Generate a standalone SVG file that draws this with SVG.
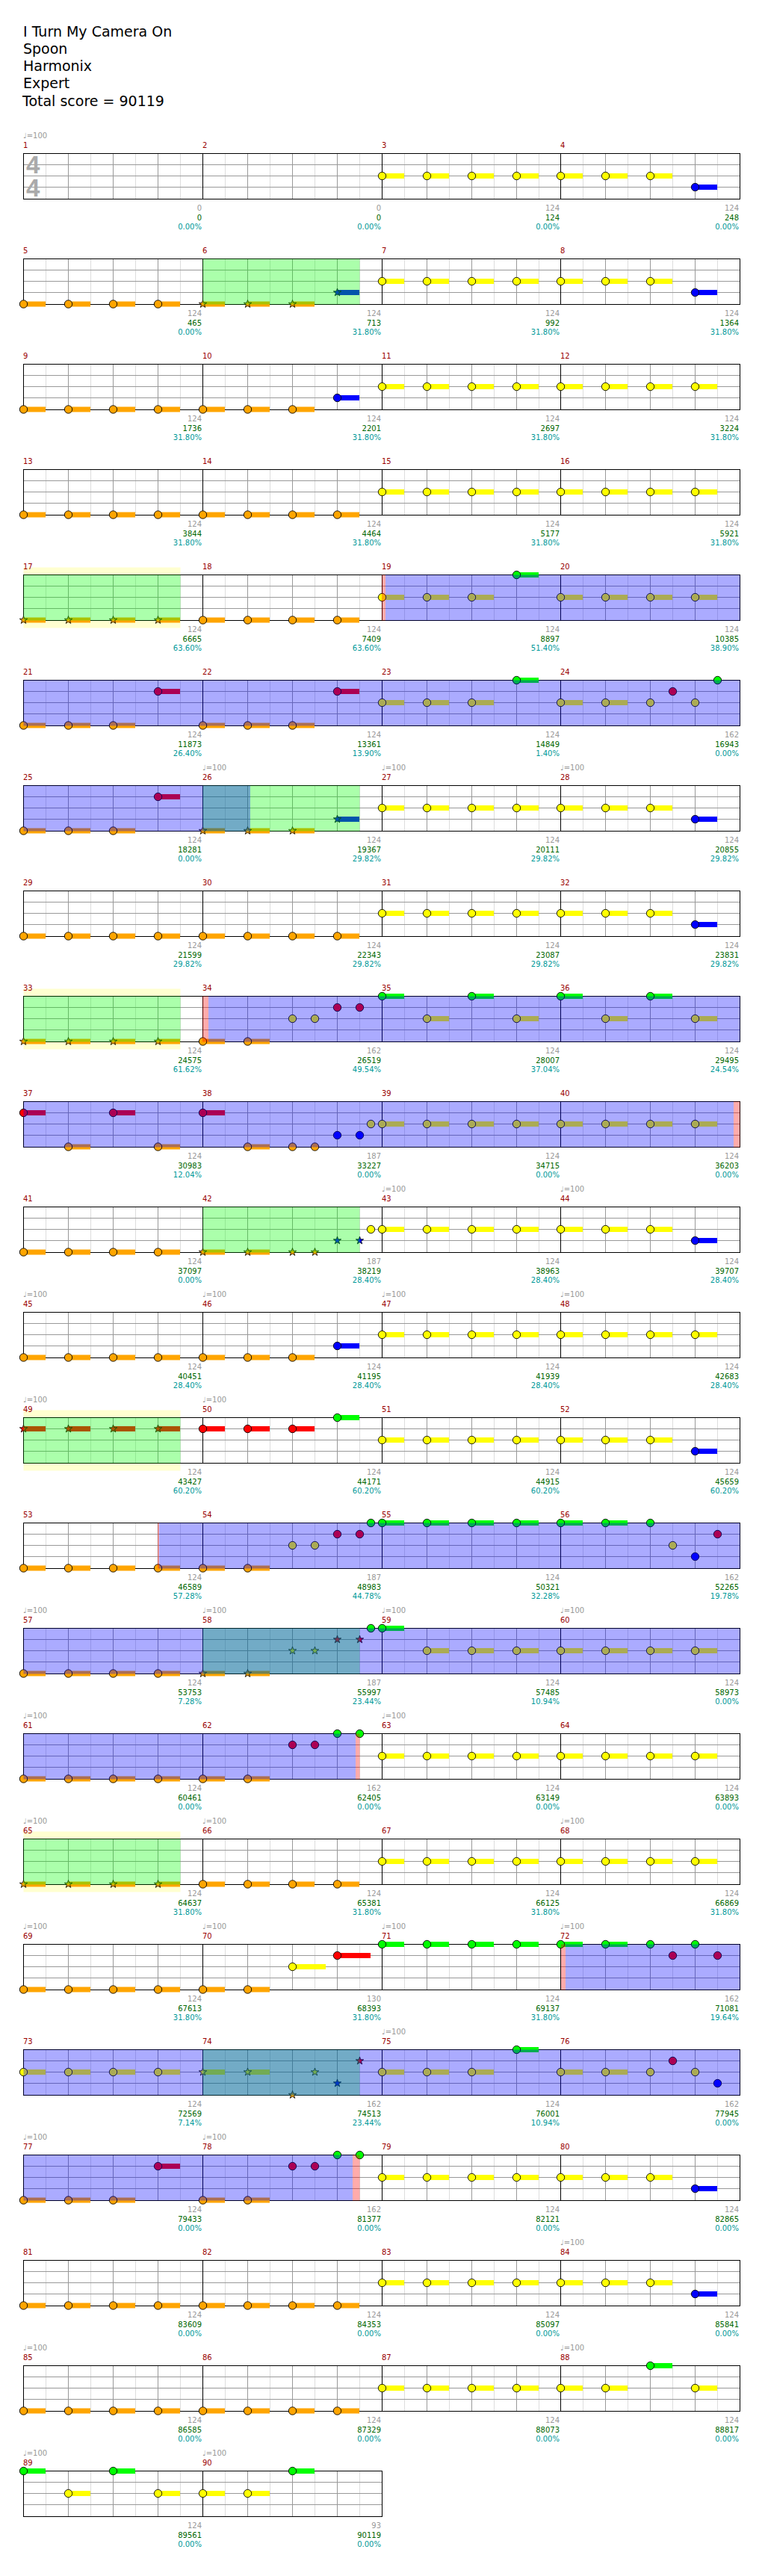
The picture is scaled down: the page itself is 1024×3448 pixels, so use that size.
<svg xmlns="http://www.w3.org/2000/svg" width="1024" height="3448" viewBox="0 0 1024 3448">
<style>
.t{font-family:"DejaVu Sans",sans-serif;font-size:19px;fill:#000}
.m{font-family:"DejaVu Sans",sans-serif;font-size:10px;fill:#990000}
.q{font-family:"DejaVu Sans",sans-serif;font-size:10px;fill:#999}
.g,.c,.p{font-family:"DejaVu Sans",sans-serif;font-size:10px;text-anchor:end}
.g{fill:#999}.c{fill:#006600}.p{fill:#009999}
.ts{font-family:"Liberation Sans",sans-serif;font-weight:bold;font-size:33px;fill:#aaa}
.bl{fill:#0000ff;fill-opacity:.33}
.gr{fill:#00ff00;fill-opacity:.33}
.pk{fill:#ff0000;fill-opacity:.33}
.hl{fill:#ffffd0}
</style>
<defs>
<g id="st4">
<rect x="31.5" y="0" width="959" height="61" fill="#fff"/>
<path d="M61.5 0V61M121.5 0V61M181.5 0V61M241.5 0V61M301.5 0V61M361.5 0V61M421.5 0V61M481.5 0V61M541.5 0V61M601.5 0V61M661.5 0V61M721.5 0V61M780.5 0V61M840.5 0V61M900.5 0V61M960.5 0V61" stroke="#ddd"/>
<path d="M91.5 0V61M151.5 0V61M211.5 0V61M331.5 0V61M391.5 0V61M451.5 0V61M571.5 0V61M631.5 0V61M691.5 0V61M810.5 0V61M870.5 0V61M930.5 0V61M31.5 15H990.5M31.5 30H990.5M31.5 45H990.5" stroke="#999"/>
<path d="M271.5 0V61M511.5 0V61M750.5 0V61" stroke="#000"/>
<rect x="31.5" y="0" width="959" height="61" fill="none" stroke="#000"/>
</g>
<g id="st2">
<rect x="31.5" y="0" width="480" height="61" fill="#fff"/>
<path d="M61.5 0V61M121.5 0V61M181.5 0V61M241.5 0V61M301.5 0V61M361.5 0V61M421.5 0V61M481.5 0V61" stroke="#ddd"/>
<path d="M91.5 0V61M151.5 0V61M211.5 0V61M331.5 0V61M391.5 0V61M451.5 0V61M31.5 15H511.5M31.5 30H511.5M31.5 45H511.5" stroke="#999"/>
<path d="M271.5 0V61" stroke="#000"/>
<rect x="31.5" y="0" width="480" height="61" fill="none" stroke="#000"/>
</g>
<rect id="tO" y="-3.5" width="29.5" height="7" fill="#ffa500"/>
<rect id="tY" y="-3.5" width="29.5" height="7" fill="#ffff00"/>
<rect id="tB" y="-3.5" width="29.5" height="7" fill="#0000ff"/>
<rect id="tR" y="-3.5" width="29.5" height="7" fill="#ff0000"/>
<rect id="tG" y="-3.5" width="29.5" height="7" fill="#00ff00"/>
<circle id="cO" r="5.2" fill="#ffa500" stroke="#000" stroke-width=".9"/>
<circle id="cY" r="5.2" fill="#ffff00" stroke="#000" stroke-width=".9"/>
<circle id="cB" r="5.2" fill="#0000ff" stroke="#000" stroke-width=".9"/>
<circle id="cR" r="5.2" fill="#ff0000" stroke="#000" stroke-width=".9"/>
<circle id="cG" r="5.2" fill="#00ff00" stroke="#000" stroke-width=".9"/>
<polygon id="sO" points="0,-5.5 1.29,-1.78 5.23,-1.7 2.09,0.68 3.23,4.45 0,2.2 -3.23,4.45 -2.09,0.68 -5.23,-1.7 -1.29,-1.78" fill="#ffa500" stroke="#000" stroke-width=".8"/>
<polygon id="sY" points="0,-5.5 1.29,-1.78 5.23,-1.7 2.09,0.68 3.23,4.45 0,2.2 -3.23,4.45 -2.09,0.68 -5.23,-1.7 -1.29,-1.78" fill="#ffff00" stroke="#000" stroke-width=".8"/>
<polygon id="sB" points="0,-5.5 1.29,-1.78 5.23,-1.7 2.09,0.68 3.23,4.45 0,2.2 -3.23,4.45 -2.09,0.68 -5.23,-1.7 -1.29,-1.78" fill="#0000ff" stroke="#000" stroke-width=".8"/>
<polygon id="sR" points="0,-5.5 1.29,-1.78 5.23,-1.7 2.09,0.68 3.23,4.45 0,2.2 -3.23,4.45 -2.09,0.68 -5.23,-1.7 -1.29,-1.78" fill="#ff0000" stroke="#000" stroke-width=".8"/>
<g id="NO"><use href="#tO"/><use href="#cO"/></g>
<g id="NY"><use href="#tY"/><use href="#cY"/></g>
<g id="NB"><use href="#tB"/><use href="#cB"/></g>
<g id="NR"><use href="#tR"/><use href="#cR"/></g>
<g id="NG"><use href="#tG"/><use href="#cG"/></g>
<g id="SO"><use href="#tO"/><use href="#sO"/></g>
<g id="SY"><use href="#tY"/><use href="#sY"/></g>
<g id="SB"><use href="#tB"/><use href="#sB"/></g>
<g id="SR"><use href="#tR"/><use href="#sR"/></g>
<g id="O4"><use href="#NO" y="60.5"/><use href="#NO" x="60" y="60.5"/><use href="#NO" x="120" y="60.5"/><use href="#NO" x="180" y="60.5"/></g>
<g id="O8"><use href="#O4"/><use href="#O4" x="240"/></g>
<g id="SO4"><use href="#SO" y="60.5"/><use href="#SO" x="60" y="60.5"/><use href="#SO" x="120" y="60.5"/><use href="#SO" x="180" y="60.5"/></g>
<g id="O3R"><use href="#NO" y="60.5"/><use href="#NO" x="60" y="60.5"/><use href="#NO" x="120" y="60.5"/><use href="#NR" x="180" y="15"/></g>
<g id="Y4"><use href="#NY" y="30"/><use href="#NY" x="60" y="30"/><use href="#NY" x="120" y="30"/><use href="#NY" x="180" y="30"/></g>
<g id="Y8"><use href="#Y4"/><use href="#Y4" x="239"/></g>
<g id="Y7B"><use href="#Y4"/><use href="#NY" x="239" y="30"/><use href="#NY" x="299" y="30"/><use href="#NY" x="359" y="30"/><use href="#NB" x="419" y="45"/></g>
</defs>
<rect width="1024" height="3448" fill="#fff"/>
<g id="header">
<text class="t" x="31" y="49">I Turn My Camera On</text>
<text class="t" x="31" y="72">Spoon</text>
<text class="t" x="31" y="95">Harmonix</text>
<text class="t" x="31" y="118">Expert</text>
<text class="t" x="30" y="141.5">Total score = 90119</text>
</g>
<g id="connectors"/>

<g id="row-m1-4" transform="translate(0,205.5)">
<use href="#st4"/>
<text class="ts" x="35" y="26.5">4</text><text class="ts" x="35" y="57.5">4</text>
<text class="q" x="31" y="-21">♩=100</text>
<text class="m" x="31" y="-8">1</text><text class="m" x="271" y="-8">2</text><text class="m" x="511" y="-8">3</text><text class="m" x="750" y="-8">4</text>
<use href="#Y7B" x="511.5"/>
<text class="g" x="270" y="76">0</text><text class="c" x="270" y="89.3">0</text><text class="p" x="270" y="101.8">0.00%</text>
<text class="g" x="510" y="76">0</text><text class="c" x="510" y="89.3">0</text><text class="p" x="510" y="101.8">0.00%</text>
<text class="g" x="749" y="76">124</text><text class="c" x="749" y="89.3">124</text><text class="p" x="749" y="101.8">0.00%</text>
<text class="g" x="989" y="76">124</text><text class="c" x="989" y="89.3">248</text><text class="p" x="989" y="101.8">0.00%</text>
</g>

<g id="row-m5-8" transform="translate(0,346.5)">
<use href="#st4"/>
<text class="m" x="31" y="-8">5</text><text class="m" x="271" y="-8">6</text><text class="m" x="511" y="-8">7</text><text class="m" x="750" y="-8">8</text>
<use href="#O4" x="31.5"/>
<use href="#SO" x="271.5" y="60.5"/><use href="#SO" x="331.5" y="60.5"/><use href="#SO" x="391.5" y="60.5"/><use href="#SB" x="451.5" y="45"/>
<use href="#Y7B" x="511.5"/>
<rect class="gr" x="271.5" y="0" width="210" height="61"/>
<text class="g" x="270" y="76">124</text><text class="c" x="270" y="89.3">465</text><text class="p" x="270" y="101.8">0.00%</text>
<text class="g" x="510" y="76">124</text><text class="c" x="510" y="89.3">713</text><text class="p" x="510" y="101.8">31.80%</text>
<text class="g" x="749" y="76">124</text><text class="c" x="749" y="89.3">992</text><text class="p" x="749" y="101.8">31.80%</text>
<text class="g" x="989" y="76">124</text><text class="c" x="989" y="89.3">1364</text><text class="p" x="989" y="101.8">31.80%</text>
</g>

<g id="row-m9-12" transform="translate(0,487.5)">
<use href="#st4"/>
<text class="m" x="31" y="-8">9</text><text class="m" x="271" y="-8">10</text><text class="m" x="511" y="-8">11</text><text class="m" x="750" y="-8">12</text>
<use href="#O4" x="31.5"/>
<use href="#NO" x="271.5" y="60.5"/><use href="#NO" x="331.5" y="60.5"/><use href="#NO" x="391.5" y="60.5"/><use href="#NB" x="451.5" y="45"/>
<use href="#Y8" x="511.5"/>
<text class="g" x="270" y="76">124</text><text class="c" x="270" y="89.3">1736</text><text class="p" x="270" y="101.8">31.80%</text>
<text class="g" x="510" y="76">124</text><text class="c" x="510" y="89.3">2201</text><text class="p" x="510" y="101.8">31.80%</text>
<text class="g" x="749" y="76">124</text><text class="c" x="749" y="89.3">2697</text><text class="p" x="749" y="101.8">31.80%</text>
<text class="g" x="989" y="76">124</text><text class="c" x="989" y="89.3">3224</text><text class="p" x="989" y="101.8">31.80%</text>
</g>

<g id="row-m13-16" transform="translate(0,628.5)">
<use href="#st4"/>
<text class="m" x="31" y="-8">13</text><text class="m" x="271" y="-8">14</text><text class="m" x="511" y="-8">15</text><text class="m" x="750" y="-8">16</text>
<use href="#O8" x="31.5"/>
<use href="#Y8" x="511.5"/>
<text class="g" x="270" y="76">124</text><text class="c" x="270" y="89.3">3844</text><text class="p" x="270" y="101.8">31.80%</text>
<text class="g" x="510" y="76">124</text><text class="c" x="510" y="89.3">4464</text><text class="p" x="510" y="101.8">31.80%</text>
<text class="g" x="749" y="76">124</text><text class="c" x="749" y="89.3">5177</text><text class="p" x="749" y="101.8">31.80%</text>
<text class="g" x="989" y="76">124</text><text class="c" x="989" y="89.3">5921</text><text class="p" x="989" y="101.8">31.80%</text>
</g>

<g id="row-m17-20" transform="translate(0,769.5)">
<rect class="hl" x="31.5" y="-10" width="210" height="81"/>
<use href="#st4"/>
<text class="m" x="31" y="-8">17</text><text class="m" x="271" y="-8">18</text><text class="m" x="511" y="-8">19</text><text class="m" x="750" y="-8">20</text>
<use href="#SO4" x="31.5"/>
<use href="#O4" x="271.5"/>
<use href="#NY" x="511.5" y="30"/><use href="#NY" x="571.5" y="30"/><use href="#NY" x="631.5" y="30"/><use href="#NG" x="691.5" y="0"/>
<use href="#Y4" x="750.5"/>
<rect class="gr" x="31.5" y="0" width="210" height="61"/>
<rect class="pk" x="511" y="0" width="5" height="61"/>
<rect class="bl" x="516" y="0" width="474.5" height="61"/>
<text class="g" x="270" y="76">124</text><text class="c" x="270" y="89.3">6665</text><text class="p" x="270" y="101.8">63.60%</text>
<text class="g" x="510" y="76">124</text><text class="c" x="510" y="89.3">7409</text><text class="p" x="510" y="101.8">63.60%</text>
<text class="g" x="749" y="76">124</text><text class="c" x="749" y="89.3">8897</text><text class="p" x="749" y="101.8">51.40%</text>
<text class="g" x="989" y="76">124</text><text class="c" x="989" y="89.3">10385</text><text class="p" x="989" y="101.8">38.90%</text>
</g>

<g id="row-m21-24" transform="translate(0,910.5)">
<use href="#st4"/>
<text class="m" x="31" y="-8">21</text><text class="m" x="271" y="-8">22</text><text class="m" x="511" y="-8">23</text><text class="m" x="750" y="-8">24</text>
<use href="#O3R" x="31.5"/><use href="#O3R" x="271.5"/>
<use href="#NY" x="511.5" y="30"/><use href="#NY" x="571.5" y="30"/><use href="#NY" x="631.5" y="30"/><use href="#NG" x="691.5" y="0"/>
<use href="#NY" x="750.5" y="30"/><use href="#NY" x="810.5" y="30"/><use href="#cY" x="870.5" y="30"/><use href="#cR" x="900.5" y="15"/><use href="#cY" x="930.5" y="30"/><use href="#cG" x="960.5" y="0"/>
<rect class="bl" x="31.5" y="0" width="959" height="61"/>
<text class="g" x="270" y="76">124</text><text class="c" x="270" y="89.3">11873</text><text class="p" x="270" y="101.8">26.40%</text>
<text class="g" x="510" y="76">124</text><text class="c" x="510" y="89.3">13361</text><text class="p" x="510" y="101.8">13.90%</text>
<text class="g" x="749" y="76">124</text><text class="c" x="749" y="89.3">14849</text><text class="p" x="749" y="101.8">1.40%</text>
<text class="g" x="989" y="76">162</text><text class="c" x="989" y="89.3">16943</text><text class="p" x="989" y="101.8">0.00%</text>
</g>

<g id="row-m25-28" transform="translate(0,1051.5)">
<use href="#st4"/>
<text class="q" x="271" y="-21">♩=100</text><text class="q" x="511" y="-21">♩=100</text><text class="q" x="750" y="-21">♩=100</text>
<text class="m" x="31" y="-8">25</text><text class="m" x="271" y="-8">26</text><text class="m" x="511" y="-8">27</text><text class="m" x="750" y="-8">28</text>
<use href="#O3R" x="31.5"/>
<use href="#SO" x="271.5" y="60.5"/><use href="#SO" x="331.5" y="60.5"/><use href="#SO" x="391.5" y="60.5"/><use href="#SB" x="451.5" y="45"/>
<use href="#Y7B" x="511.5"/>
<rect class="gr" x="271.5" y="0" width="210" height="61"/>
<rect class="bl" x="31.5" y="0" width="303.5" height="61"/>
<text class="g" x="270" y="76">124</text><text class="c" x="270" y="89.3">18281</text><text class="p" x="270" y="101.8">0.00%</text>
<text class="g" x="510" y="76">124</text><text class="c" x="510" y="89.3">19367</text><text class="p" x="510" y="101.8">29.82%</text>
<text class="g" x="749" y="76">124</text><text class="c" x="749" y="89.3">20111</text><text class="p" x="749" y="101.8">29.82%</text>
<text class="g" x="989" y="76">124</text><text class="c" x="989" y="89.3">20855</text><text class="p" x="989" y="101.8">29.82%</text>
</g>

<g id="row-m29-32" transform="translate(0,1192.5)">
<use href="#st4"/>
<text class="m" x="31" y="-8">29</text><text class="m" x="271" y="-8">30</text><text class="m" x="511" y="-8">31</text><text class="m" x="750" y="-8">32</text>
<use href="#O8" x="31.5"/>
<use href="#Y7B" x="511.5"/>
<text class="g" x="270" y="76">124</text><text class="c" x="270" y="89.3">21599</text><text class="p" x="270" y="101.8">29.82%</text>
<text class="g" x="510" y="76">124</text><text class="c" x="510" y="89.3">22343</text><text class="p" x="510" y="101.8">29.82%</text>
<text class="g" x="749" y="76">124</text><text class="c" x="749" y="89.3">23087</text><text class="p" x="749" y="101.8">29.82%</text>
<text class="g" x="989" y="76">124</text><text class="c" x="989" y="89.3">23831</text><text class="p" x="989" y="101.8">29.82%</text>
</g>

<g id="row-m33-36" transform="translate(0,1333.5)">
<rect class="hl" x="31.5" y="-10" width="210" height="81"/>
<use href="#st4"/>
<text class="m" x="31" y="-8">33</text><text class="m" x="271" y="-8">34</text><text class="m" x="511" y="-8">35</text><text class="m" x="750" y="-8">36</text>
<use href="#SO4" x="31.5"/>
<use href="#NO" x="271.5" y="60.5"/><use href="#NO" x="331.5" y="60.5"/>
<use href="#cY" x="391.5" y="30"/><use href="#cY" x="421.5" y="30"/><use href="#cR" x="451.5" y="15"/><use href="#cR" x="481.5" y="15"/>
<use href="#NG" x="511.5" y="0"/><use href="#NY" x="571.5" y="30"/><use href="#NG" x="631.5" y="0"/><use href="#NY" x="691.5" y="30"/>
<use href="#NG" x="750.5" y="0"/><use href="#NY" x="810.5" y="30"/><use href="#NG" x="870.5" y="0"/><use href="#NY" x="930.5" y="30"/>
<rect class="gr" x="31.5" y="0" width="210" height="61"/>
<rect class="pk" x="271" y="0" width="8" height="61"/>
<rect class="bl" x="279" y="0" width="711.5" height="61"/>
<text class="g" x="270" y="76">124</text><text class="c" x="270" y="89.3">24575</text><text class="p" x="270" y="101.8">61.62%</text>
<text class="g" x="510" y="76">162</text><text class="c" x="510" y="89.3">26519</text><text class="p" x="510" y="101.8">49.54%</text>
<text class="g" x="749" y="76">124</text><text class="c" x="749" y="89.3">28007</text><text class="p" x="749" y="101.8">37.04%</text>
<text class="g" x="989" y="76">124</text><text class="c" x="989" y="89.3">29495</text><text class="p" x="989" y="101.8">24.54%</text>
</g>

<g id="row-m37-40" transform="translate(0,1474.5)">
<use href="#st4"/>
<text class="m" x="31" y="-8">37</text><text class="m" x="271" y="-8">38</text><text class="m" x="511" y="-8">39</text><text class="m" x="750" y="-8">40</text>
<use href="#NR" x="31.5" y="15"/><use href="#NO" x="91.5" y="60.5"/><use href="#NR" x="151.5" y="15"/><use href="#NO" x="211.5" y="60.5"/>
<use href="#NR" x="271.5" y="15"/><use href="#NO" x="331.5" y="60.5"/><use href="#cO" x="391.5" y="60.5"/><use href="#cO" x="421.5" y="60.5"/>
<use href="#cB" x="451.5" y="45"/><use href="#cB" x="481.5" y="45"/><use href="#cY" x="496.5" y="30"/>
<use href="#Y8" x="511.5"/>
<rect class="bl" x="31.5" y="0" width="950.5" height="61"/>
<rect class="pk" x="982" y="0" width="8.5" height="61"/>
<text class="g" x="270" y="76">124</text><text class="c" x="270" y="89.3">30983</text><text class="p" x="270" y="101.8">12.04%</text>
<text class="g" x="510" y="76">187</text><text class="c" x="510" y="89.3">33227</text><text class="p" x="510" y="101.8">0.00%</text>
<text class="g" x="749" y="76">124</text><text class="c" x="749" y="89.3">34715</text><text class="p" x="749" y="101.8">0.00%</text>
<text class="g" x="989" y="76">124</text><text class="c" x="989" y="89.3">36203</text><text class="p" x="989" y="101.8">0.00%</text>
</g>

<g id="row-m41-44" transform="translate(0,1615.5)">
<use href="#st4"/>
<text class="q" x="511" y="-21">♩=100</text><text class="q" x="750" y="-21">♩=100</text>
<text class="m" x="31" y="-8">41</text><text class="m" x="271" y="-8">42</text><text class="m" x="511" y="-8">43</text><text class="m" x="750" y="-8">44</text>
<use href="#O4" x="31.5"/>
<use href="#SO" x="271.5" y="60.5"/><use href="#SO" x="331.5" y="60.5"/><use href="#sO" x="391.5" y="60.5"/><use href="#sO" x="421.5" y="60.5"/>
<use href="#sB" x="451.5" y="45"/><use href="#sB" x="481.5" y="45"/><use href="#cY" x="496.5" y="30"/>
<use href="#Y7B" x="511.5"/>
<rect class="gr" x="271.5" y="0" width="210" height="61"/>
<text class="g" x="270" y="76">124</text><text class="c" x="270" y="89.3">37097</text><text class="p" x="270" y="101.8">0.00%</text>
<text class="g" x="510" y="76">187</text><text class="c" x="510" y="89.3">38219</text><text class="p" x="510" y="101.8">28.40%</text>
<text class="g" x="749" y="76">124</text><text class="c" x="749" y="89.3">38963</text><text class="p" x="749" y="101.8">28.40%</text>
<text class="g" x="989" y="76">124</text><text class="c" x="989" y="89.3">39707</text><text class="p" x="989" y="101.8">28.40%</text>
</g>

<g id="row-m45-48" transform="translate(0,1756.5)">
<use href="#st4"/>
<text class="q" x="31" y="-21">♩=100</text><text class="q" x="271" y="-21">♩=100</text><text class="q" x="511" y="-21">♩=100</text><text class="q" x="750" y="-21">♩=100</text>
<text class="m" x="31" y="-8">45</text><text class="m" x="271" y="-8">46</text><text class="m" x="511" y="-8">47</text><text class="m" x="750" y="-8">48</text>
<use href="#O4" x="31.5"/>
<use href="#NO" x="271.5" y="60.5"/><use href="#NO" x="331.5" y="60.5"/><use href="#NO" x="391.5" y="60.5"/><use href="#NB" x="451.5" y="45"/>
<use href="#Y8" x="511.5"/>
<text class="g" x="270" y="76">124</text><text class="c" x="270" y="89.3">40451</text><text class="p" x="270" y="101.8">28.40%</text>
<text class="g" x="510" y="76">124</text><text class="c" x="510" y="89.3">41195</text><text class="p" x="510" y="101.8">28.40%</text>
<text class="g" x="749" y="76">124</text><text class="c" x="749" y="89.3">41939</text><text class="p" x="749" y="101.8">28.40%</text>
<text class="g" x="989" y="76">124</text><text class="c" x="989" y="89.3">42683</text><text class="p" x="989" y="101.8">28.40%</text>
</g>

<g id="row-m49-52" transform="translate(0,1897.5)">
<rect class="hl" x="31.5" y="-10" width="210" height="81"/>
<use href="#st4"/>
<text class="q" x="31" y="-21">♩=100</text><text class="q" x="271" y="-21">♩=100</text>
<text class="m" x="31" y="-8">49</text><text class="m" x="271" y="-8">50</text><text class="m" x="511" y="-8">51</text><text class="m" x="750" y="-8">52</text>
<use href="#SR" x="31.5" y="15"/><use href="#SR" x="91.5" y="15"/><use href="#SR" x="151.5" y="15"/><use href="#SR" x="211.5" y="15"/>
<use href="#NR" x="271.5" y="15"/><use href="#NR" x="331.5" y="15"/><use href="#NR" x="391.5" y="15"/><use href="#NG" x="451.5" y="0"/>
<use href="#Y7B" x="511.5"/>
<rect class="gr" x="31.5" y="0" width="210" height="61"/>
<text class="g" x="270" y="76">124</text><text class="c" x="270" y="89.3">43427</text><text class="p" x="270" y="101.8">60.20%</text>
<text class="g" x="510" y="76">124</text><text class="c" x="510" y="89.3">44171</text><text class="p" x="510" y="101.8">60.20%</text>
<text class="g" x="749" y="76">124</text><text class="c" x="749" y="89.3">44915</text><text class="p" x="749" y="101.8">60.20%</text>
<text class="g" x="989" y="76">124</text><text class="c" x="989" y="89.3">45659</text><text class="p" x="989" y="101.8">60.20%</text>
</g>

<g id="row-m53-56" transform="translate(0,2038.5)">
<use href="#st4"/>
<text class="m" x="31" y="-8">53</text><text class="m" x="271" y="-8">54</text><text class="m" x="511" y="-8">55</text><text class="m" x="750" y="-8">56</text>
<use href="#O4" x="31.5"/>
<use href="#NO" x="271.5" y="60.5"/><use href="#NO" x="331.5" y="60.5"/><use href="#cY" x="391.5" y="30"/><use href="#cY" x="421.5" y="30"/>
<use href="#cR" x="451.5" y="15"/><use href="#cR" x="481.5" y="15"/><use href="#cG" x="496.5" y="0"/>
<use href="#NG" x="511.5" y="0"/><use href="#NG" x="571.5" y="0"/><use href="#NG" x="631.5" y="0"/><use href="#NG" x="691.5" y="0"/>
<use href="#NG" x="750.5" y="0"/><use href="#NG" x="810.5" y="0"/><use href="#cG" x="870.5" y="0"/><use href="#cY" x="900.5" y="30"/><use href="#cB" x="930.5" y="45"/><use href="#cR" x="960.5" y="15"/>
<rect class="pk" x="211" y="0" width="2" height="61"/>
<rect class="bl" x="213" y="0" width="777.5" height="61"/>
<text class="g" x="270" y="76">124</text><text class="c" x="270" y="89.3">46589</text><text class="p" x="270" y="101.8">57.28%</text>
<text class="g" x="510" y="76">187</text><text class="c" x="510" y="89.3">48983</text><text class="p" x="510" y="101.8">44.78%</text>
<text class="g" x="749" y="76">124</text><text class="c" x="749" y="89.3">50321</text><text class="p" x="749" y="101.8">32.28%</text>
<text class="g" x="989" y="76">162</text><text class="c" x="989" y="89.3">52265</text><text class="p" x="989" y="101.8">19.78%</text>
</g>

<g id="row-m57-60" transform="translate(0,2179.5)">
<use href="#st4"/>
<text class="q" x="31" y="-21">♩=100</text><text class="q" x="271" y="-21">♩=100</text><text class="q" x="511" y="-21">♩=100</text><text class="q" x="750" y="-21">♩=100</text>
<text class="m" x="31" y="-8">57</text><text class="m" x="271" y="-8">58</text><text class="m" x="511" y="-8">59</text><text class="m" x="750" y="-8">60</text>
<use href="#O4" x="31.5"/>
<use href="#SO" x="271.5" y="60.5"/><use href="#SO" x="331.5" y="60.5"/><use href="#sY" x="391.5" y="30"/><use href="#sY" x="421.5" y="30"/>
<use href="#sR" x="451.5" y="15"/><use href="#sR" x="481.5" y="15"/><use href="#cG" x="496.5" y="0"/>
<use href="#NG" x="511.5" y="0"/><use href="#NY" x="571.5" y="30"/><use href="#NY" x="631.5" y="30"/><use href="#NY" x="691.5" y="30"/>
<use href="#Y4" x="750.5"/>
<rect class="gr" x="271.5" y="0" width="210" height="61"/>
<rect class="bl" x="31.5" y="0" width="959" height="61"/>
<text class="g" x="270" y="76">124</text><text class="c" x="270" y="89.3">53753</text><text class="p" x="270" y="101.8">7.28%</text>
<text class="g" x="510" y="76">187</text><text class="c" x="510" y="89.3">55997</text><text class="p" x="510" y="101.8">23.44%</text>
<text class="g" x="749" y="76">124</text><text class="c" x="749" y="89.3">57485</text><text class="p" x="749" y="101.8">10.94%</text>
<text class="g" x="989" y="76">124</text><text class="c" x="989" y="89.3">58973</text><text class="p" x="989" y="101.8">0.00%</text>
</g>

<g id="row-m61-64" transform="translate(0,2320.5)">
<use href="#st4"/>
<text class="q" x="31" y="-21">♩=100</text><text class="q" x="511" y="-21">♩=100</text>
<text class="m" x="31" y="-8">61</text><text class="m" x="271" y="-8">62</text><text class="m" x="511" y="-8">63</text><text class="m" x="750" y="-8">64</text>
<use href="#O4" x="31.5"/>
<use href="#NO" x="271.5" y="60.5"/><use href="#NO" x="331.5" y="60.5"/><use href="#cR" x="391.5" y="15"/><use href="#cR" x="421.5" y="15"/>
<use href="#cG" x="451.5" y="0"/><use href="#cG" x="481.5" y="0"/>
<use href="#Y8" x="511.5"/>
<rect class="bl" x="31.5" y="0" width="444.5" height="61"/>
<rect class="pk" x="476" y="0" width="5.5" height="61"/>
<text class="g" x="270" y="76">124</text><text class="c" x="270" y="89.3">60461</text><text class="p" x="270" y="101.8">0.00%</text>
<text class="g" x="510" y="76">162</text><text class="c" x="510" y="89.3">62405</text><text class="p" x="510" y="101.8">0.00%</text>
<text class="g" x="749" y="76">124</text><text class="c" x="749" y="89.3">63149</text><text class="p" x="749" y="101.8">0.00%</text>
<text class="g" x="989" y="76">124</text><text class="c" x="989" y="89.3">63893</text><text class="p" x="989" y="101.8">0.00%</text>
</g>

<g id="row-m65-68" transform="translate(0,2461.5)">
<rect class="hl" x="31.5" y="-10" width="210" height="81"/>
<use href="#st4"/>
<text class="q" x="31" y="-21">♩=100</text><text class="q" x="271" y="-21">♩=100</text><text class="q" x="750" y="-21">♩=100</text>
<text class="m" x="31" y="-8">65</text><text class="m" x="271" y="-8">66</text><text class="m" x="511" y="-8">67</text><text class="m" x="750" y="-8">68</text>
<use href="#SO4" x="31.5"/>
<use href="#O4" x="271.5"/>
<use href="#Y8" x="511.5"/>
<rect class="gr" x="31.5" y="0" width="210" height="61"/>
<text class="g" x="270" y="76">124</text><text class="c" x="270" y="89.3">64637</text><text class="p" x="270" y="101.8">31.80%</text>
<text class="g" x="510" y="76">124</text><text class="c" x="510" y="89.3">65381</text><text class="p" x="510" y="101.8">31.80%</text>
<text class="g" x="749" y="76">124</text><text class="c" x="749" y="89.3">66125</text><text class="p" x="749" y="101.8">31.80%</text>
<text class="g" x="989" y="76">124</text><text class="c" x="989" y="89.3">66869</text><text class="p" x="989" y="101.8">31.80%</text>
</g>

<g id="row-m69-72" transform="translate(0,2602.5)">
<use href="#st4"/>
<text class="q" x="31" y="-21">♩=100</text><text class="q" x="271" y="-21">♩=100</text><text class="q" x="511" y="-21">♩=100</text><text class="q" x="750" y="-21">♩=100</text>
<text class="m" x="31" y="-8">69</text><text class="m" x="271" y="-8">70</text><text class="m" x="511" y="-8">71</text><text class="m" x="750" y="-8">72</text>
<use href="#O4" x="31.5"/>
<use href="#NO" x="271.5" y="60.5"/><use href="#NO" x="331.5" y="60.5"/>
<rect x="391.5" y="26.5" width="44.5" height="7" fill="#ffff00"/><use href="#cY" x="391.5" y="30"/>
<rect x="451.5" y="11.5" width="44.5" height="7" fill="#ff0000"/><use href="#cR" x="451.5" y="15"/>
<use href="#NG" x="511.5" y="0"/><use href="#NG" x="571.5" y="0"/><use href="#NG" x="631.5" y="0"/><use href="#NG" x="691.5" y="0"/>
<use href="#NG" x="750.5" y="0"/><use href="#NG" x="810.5" y="0"/><use href="#cG" x="870.5" y="0"/><use href="#cR" x="900.5" y="15"/><use href="#cG" x="930.5" y="0"/><use href="#cR" x="960.5" y="15"/>
<rect class="pk" x="751" y="0" width="6" height="61"/>
<rect class="bl" x="757" y="0" width="233.5" height="61"/>
<text class="g" x="270" y="76">124</text><text class="c" x="270" y="89.3">67613</text><text class="p" x="270" y="101.8">31.80%</text>
<text class="g" x="510" y="76">130</text><text class="c" x="510" y="89.3">68393</text><text class="p" x="510" y="101.8">31.80%</text>
<text class="g" x="749" y="76">124</text><text class="c" x="749" y="89.3">69137</text><text class="p" x="749" y="101.8">31.80%</text>
<text class="g" x="989" y="76">162</text><text class="c" x="989" y="89.3">71081</text><text class="p" x="989" y="101.8">19.64%</text>
</g>

<g id="row-m73-76" transform="translate(0,2743.5)">
<use href="#st4"/>
<text class="q" x="511" y="-21">♩=100</text>
<text class="m" x="31" y="-8">73</text><text class="m" x="271" y="-8">74</text><text class="m" x="511" y="-8">75</text><text class="m" x="750" y="-8">76</text>
<use href="#Y4" x="31.5"/>
<use href="#SY" x="271.5" y="30"/><use href="#SY" x="331.5" y="30"/><use href="#sO" x="391.5" y="60.5"/><use href="#sY" x="421.5" y="30"/>
<use href="#sB" x="451.5" y="45"/><use href="#sR" x="481.5" y="15"/>
<use href="#NY" x="511.5" y="30"/><use href="#NY" x="571.5" y="30"/><use href="#NY" x="631.5" y="30"/><use href="#NG" x="691.5" y="0"/>
<use href="#NY" x="750.5" y="30"/><use href="#NY" x="810.5" y="30"/><use href="#cY" x="870.5" y="30"/><use href="#cR" x="900.5" y="15"/><use href="#cY" x="930.5" y="30"/><use href="#cB" x="960.5" y="45"/>
<rect class="gr" x="271.5" y="0" width="210" height="61"/>
<rect class="bl" x="31.5" y="0" width="959" height="61"/>
<text class="g" x="270" y="76">124</text><text class="c" x="270" y="89.3">72569</text><text class="p" x="270" y="101.8">7.14%</text>
<text class="g" x="510" y="76">162</text><text class="c" x="510" y="89.3">74513</text><text class="p" x="510" y="101.8">23.44%</text>
<text class="g" x="749" y="76">124</text><text class="c" x="749" y="89.3">76001</text><text class="p" x="749" y="101.8">10.94%</text>
<text class="g" x="989" y="76">162</text><text class="c" x="989" y="89.3">77945</text><text class="p" x="989" y="101.8">0.00%</text>
</g>

<g id="row-m77-80" transform="translate(0,2884.5)">
<use href="#st4"/>
<text class="q" x="31" y="-21">♩=100</text><text class="q" x="271" y="-21">♩=100</text>
<text class="m" x="31" y="-8">77</text><text class="m" x="271" y="-8">78</text><text class="m" x="511" y="-8">79</text><text class="m" x="750" y="-8">80</text>
<use href="#O3R" x="31.5"/>
<use href="#NO" x="271.5" y="60.5"/><use href="#NO" x="331.5" y="60.5"/><use href="#cR" x="391.5" y="15"/><use href="#cR" x="421.5" y="15"/>
<use href="#cG" x="451.5" y="0"/><use href="#cG" x="481.5" y="0"/>
<use href="#Y7B" x="511.5"/>
<rect class="bl" x="31.5" y="0" width="440.5" height="61"/>
<rect class="pk" x="472" y="0" width="9.5" height="61"/>
<text class="g" x="270" y="76">124</text><text class="c" x="270" y="89.3">79433</text><text class="p" x="270" y="101.8">0.00%</text>
<text class="g" x="510" y="76">162</text><text class="c" x="510" y="89.3">81377</text><text class="p" x="510" y="101.8">0.00%</text>
<text class="g" x="749" y="76">124</text><text class="c" x="749" y="89.3">82121</text><text class="p" x="749" y="101.8">0.00%</text>
<text class="g" x="989" y="76">124</text><text class="c" x="989" y="89.3">82865</text><text class="p" x="989" y="101.8">0.00%</text>
</g>

<g id="row-m81-84" transform="translate(0,3025.5)">
<use href="#st4"/>
<text class="q" x="750" y="-21">♩=100</text>
<text class="m" x="31" y="-8">81</text><text class="m" x="271" y="-8">82</text><text class="m" x="511" y="-8">83</text><text class="m" x="750" y="-8">84</text>
<use href="#O8" x="31.5"/>
<use href="#Y7B" x="511.5"/>
<text class="g" x="270" y="76">124</text><text class="c" x="270" y="89.3">83609</text><text class="p" x="270" y="101.8">0.00%</text>
<text class="g" x="510" y="76">124</text><text class="c" x="510" y="89.3">84353</text><text class="p" x="510" y="101.8">0.00%</text>
<text class="g" x="749" y="76">124</text><text class="c" x="749" y="89.3">85097</text><text class="p" x="749" y="101.8">0.00%</text>
<text class="g" x="989" y="76">124</text><text class="c" x="989" y="89.3">85841</text><text class="p" x="989" y="101.8">0.00%</text>
</g>

<g id="row-m85-88" transform="translate(0,3166.5)">
<use href="#st4"/>
<text class="q" x="31" y="-21">♩=100</text><text class="q" x="750" y="-21">♩=100</text>
<text class="m" x="31" y="-8">85</text><text class="m" x="271" y="-8">86</text><text class="m" x="511" y="-8">87</text><text class="m" x="750" y="-8">88</text>
<use href="#O8" x="31.5"/>
<use href="#Y4" x="511.5"/>
<use href="#NY" x="750.5" y="30"/><use href="#NY" x="810.5" y="30"/><use href="#NG" x="870.5" y="0"/><use href="#NY" x="930.5" y="30"/>
<text class="g" x="270" y="76">124</text><text class="c" x="270" y="89.3">86585</text><text class="p" x="270" y="101.8">0.00%</text>
<text class="g" x="510" y="76">124</text><text class="c" x="510" y="89.3">87329</text><text class="p" x="510" y="101.8">0.00%</text>
<text class="g" x="749" y="76">124</text><text class="c" x="749" y="89.3">88073</text><text class="p" x="749" y="101.8">0.00%</text>
<text class="g" x="989" y="76">124</text><text class="c" x="989" y="89.3">88817</text><text class="p" x="989" y="101.8">0.00%</text>
</g>

<g id="row-m89-90" transform="translate(0,3307.5)">
<use href="#st2"/>
<text class="q" x="31" y="-21">♩=100</text><text class="q" x="271" y="-21">♩=100</text>
<text class="m" x="31" y="-8">89</text><text class="m" x="271" y="-8">90</text>
<use href="#NG" x="31.5" y="0"/><use href="#NY" x="91.5" y="30"/><use href="#NG" x="151.5" y="0"/><use href="#NY" x="211.5" y="30"/>
<use href="#NY" x="271.5" y="30"/><use href="#NY" x="331.5" y="30"/><use href="#NG" x="391.5" y="0"/>
<text class="g" x="270" y="76">124</text><text class="c" x="270" y="89.3">89561</text><text class="p" x="270" y="101.8">0.00%</text>
<text class="g" x="510" y="76">93</text><text class="c" x="510" y="89.3">90119</text><text class="p" x="510" y="101.8">0.00%</text>
</g>
</svg>
